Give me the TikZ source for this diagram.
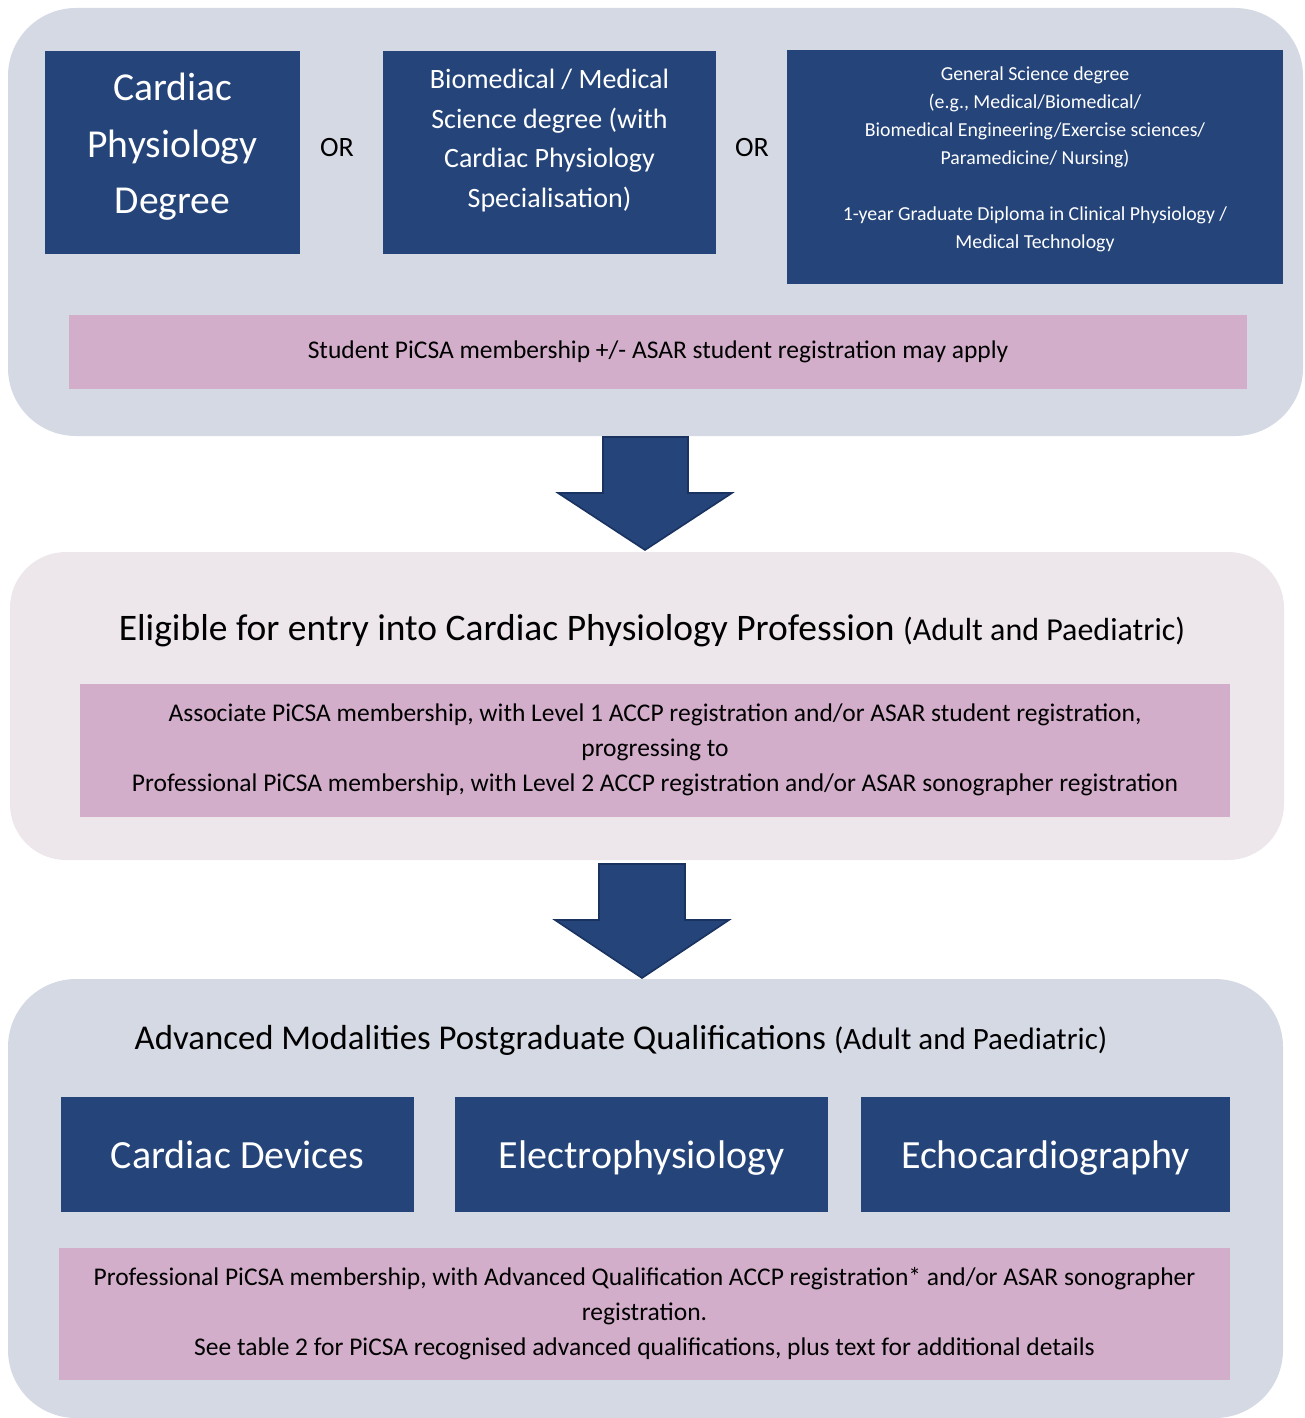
\documentclass[tikz,border=0pt]{standalone}
\usepackage{fontspec}
\setmainfont{Carlito}
\usetikzlibrary{positioning}

\definecolor{grisPanel}{HTML}{D5D9E4}
\definecolor{rosaPanel}{HTML}{EDE7EC}
\definecolor{azulCaja}{HTML}{24447A}
\definecolor{azulBorde}{HTML}{1A3260}
\definecolor{rosaBarra}{HTML}{D3AECB}

\begin{document}
\begin{tikzpicture}[x=0.5pt,y=-0.5pt]

    \tikzset{panel/.style = {shape=rectangle,fill=grisPanel,rounded corners=34pt,inner sep=0pt}}
    \tikzset{cajaAzul/.style = {shape=rectangle,fill=azulCaja,text=white,align=center,inner sep=0pt}}
    \tikzset{cajaModalidad/.style = {cajaAzul,minimum height=57.5pt,text height=14pt,text depth=0pt,font=\fontsize{20}{24}\selectfont}}
    \tikzset{barra/.style = {shape=rectangle,fill=rosaBarra,align=center,inner sep=0pt,font=\fontsize{12.75}{17.5}\selectfont}}
    \tikzset{flecha/.style = {fill=azulCaja,draw=azulBorde,line width=0.8pt,line join=miter}}

    \useasboundingbox (0,0) rectangle (1305,1418);

    %nivel 1: titulos de grado
    \node [panel,minimum width=647.5pt,minimum height=214pt] (panelA) at (655.5,222) {};
    \node [cajaAzul,minimum width=127.5pt,minimum height=101.5pt,text depth=9pt,font=\fontsize{19.8}{28.2}\selectfont] (gradoCardiaco) at (172.5,152.5)
        {Cardiac\\Physiology\\Degree};
    \node [font=\fontsize{14}{17}\selectfont] (or1) at (337,148) {OR};
    \node [cajaAzul,minimum width=166.5pt,minimum height=101.5pt,text depth=14pt,font=\fontsize{14}{19.75}\selectfont] (gradoBiomed) at (549.5,152.5)
        {Biomedical / Medical\\Science degree (with\\Cardiac Physiology\\Specialisation)};
    \node [font=\fontsize{14}{17}\selectfont] (or2) at (752,148) {OR};
    \node [cajaAzul,minimum width=248pt,minimum height=117pt,text depth=9pt,font=\fontsize{9.9}{14}\selectfont] (gradoGeneral) at (1035,167)
        {General Science degree\\(e.g., Medical/Biomedical/\\Biomedical Engineering/Exercise sciences/\\Paramedicine/ Nursing)\\[14pt]1-year Graduate Diploma in Clinical Physiology /\\Medical Technology};
    \node [barra,minimum width=589pt,minimum height=37pt] (barraEstudiante) at (658,352)
        {Student PiCSA membership +/- ASAR student registration may apply};

    \draw [flecha] (603,437) -- (688,437) -- (688,493) -- (732,493)
        -- (645,550) -- (558,493) -- (603,493) -- cycle;

    %nivel 2: entrada a la profesion
    \node [panel,fill=rosaPanel,rounded corners=28pt,minimum width=637pt,minimum height=154pt] (panelB) at (647,706) {};
    \node [inner sep=0pt,font=\fontsize{18.75}{22}\selectfont] (tituloEntrada) at (652,631)
        {Eligible for entry into Cardiac Physiology Profession {\fontsize{16}{19}\selectfont(Adult and Paediatric)}};
    \node [barra,minimum width=575pt,minimum height=66.5pt] (barraAsociado) at (655,750)
        {Associate PiCSA membership, with Level 1 ACCP registration and/or ASAR student registration,\\progressing to\\Professional PiCSA membership, with Level 2 ACCP registration and/or ASAR sonographer registration};

    \draw [flecha] (599,864) -- (685,864) -- (685,920) -- (729,920)
        -- (642,978) -- (555,920) -- (599,920) -- cycle;

    %nivel 3: modalidades avanzadas
    \node [panel,minimum width=637.5pt,minimum height=219.5pt] (panelC) at (645.5,1198.5) {};
    \node [inner sep=0pt,font=\fontsize{17.4}{21}\selectfont] (tituloAvanzado) at (621,1040)
        {Advanced Modalities Postgraduate Qualifications {\fontsize{15.5}{18}\selectfont(Adult and Paediatric)}};
    \node [cajaModalidad,minimum width=176.5pt] (dispositivos) at (237.5,1154.5) {Cardiac Devices};
    \node [cajaModalidad,minimum width=186.5pt] (electro) at (641.5,1154.5) {Electrophysiology};
    \node [cajaModalidad,minimum width=184.5pt] (eco) at (1045.5,1154.5) {Echocardiography};
    \node [barra,minimum width=585.5pt,minimum height=66pt] (barraProfesional) at (644.5,1314)
        {Professional PiCSA membership, with Advanced Qualification ACCP registration* and/or ASAR sonographer\\registration.\\See table 2 for PiCSA recognised advanced qualifications, plus text for additional details};

\end{tikzpicture}
\end{document}
